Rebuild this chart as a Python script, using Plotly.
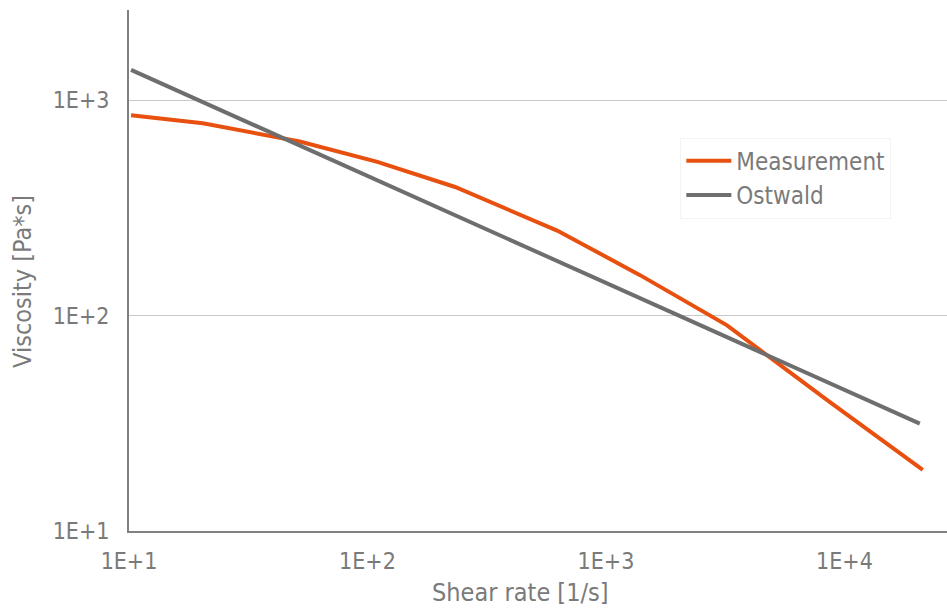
import plotly.graph_objects as go

# Data
meas_x = [10.2, 20.4, 52, 110, 233, 624, 1390, 3220, 8690, 21300]
meas_y = [851, 780, 642, 517, 395, 248, 154, 90, 39.6, 19.2]

ostwald_x = [10.2, 20700]
ostwald_y = [1380, 31.5]

tick_vals_x = [10, 100, 1000, 10000]
tick_text_x = ["1E+1", "1E+2", "1E+3", "1E+4"]
tick_vals_y = [10, 100, 1000]
tick_text_y = ["1E+1", "1E+2", "1E+3"]

FONT = "DejaVu Sans Condensed, DejaVu Sans, sans-serif"
TXT = "#7a7a7a"

fig = go.Figure()
fig.add_trace(go.Scatter(x=meas_x, y=meas_y, mode="lines", name="Measurement",
                         line=dict(color="#e8500f", width=4)))
fig.add_trace(go.Scatter(x=ostwald_x, y=ostwald_y, mode="lines", name="Ostwald",
                         line=dict(color="#6e6e6e", width=4)))

fig.update_layout(
    width=947, height=610,
    margin=dict(l=129, r=0, t=10, b=79),
    paper_bgcolor="white", plot_bgcolor="white",
    font=dict(family=FONT, size=23, color=TXT),
    showlegend=True,
    legend=dict(x=0.674, y=0.755, xanchor="left", yanchor="top",
                bgcolor="white", bordercolor="#f3f3f3", borderwidth=1,
                itemwidth=45, tracegroupgap=0,
                font=dict(family=FONT, size=24, color=TXT)),
    annotations=[
        dict(text="Shear rate [1/s]", xref="paper", yref="paper",
             x=0.478, y=-0.119, showarrow=False, xanchor="center", yanchor="middle",
             font=dict(family=FONT, size=25, color=TXT)),
        dict(text="Viscosity [Pa*s]", xref="paper", yref="paper",
             x=-0.1296, y=0.48, showarrow=False, xanchor="center", yanchor="middle",
             textangle=-90, font=dict(family=FONT, size=25, color=TXT)),
    ],
)

fig.update_xaxes(type="log", range=[1, 4.43], tickvals=tick_vals_x, ticktext=tick_text_x,
                 showgrid=False, zeroline=False, showline=True, linecolor="#808080",
                 linewidth=2, ticks="", ticklabelstandoff=8,
                 tickfont=dict(family=FONT, size=23, color=TXT))
fig.update_yaxes(type="log", range=[1, 3.418], tickvals=tick_vals_y, ticktext=tick_text_y,
                 showgrid=True, gridcolor="#c8c8c8", gridwidth=1, zeroline=False,
                 showline=True, linecolor="#808080", linewidth=2, ticks="",
                 ticklabelstandoff=13,
                 tickfont=dict(family=FONT, size=23, color=TXT))

fig.write_html("out.html", config={"displayModeBar": False},
               post_script="document.body.style.margin='0';document.body.style.overflow='hidden';")
